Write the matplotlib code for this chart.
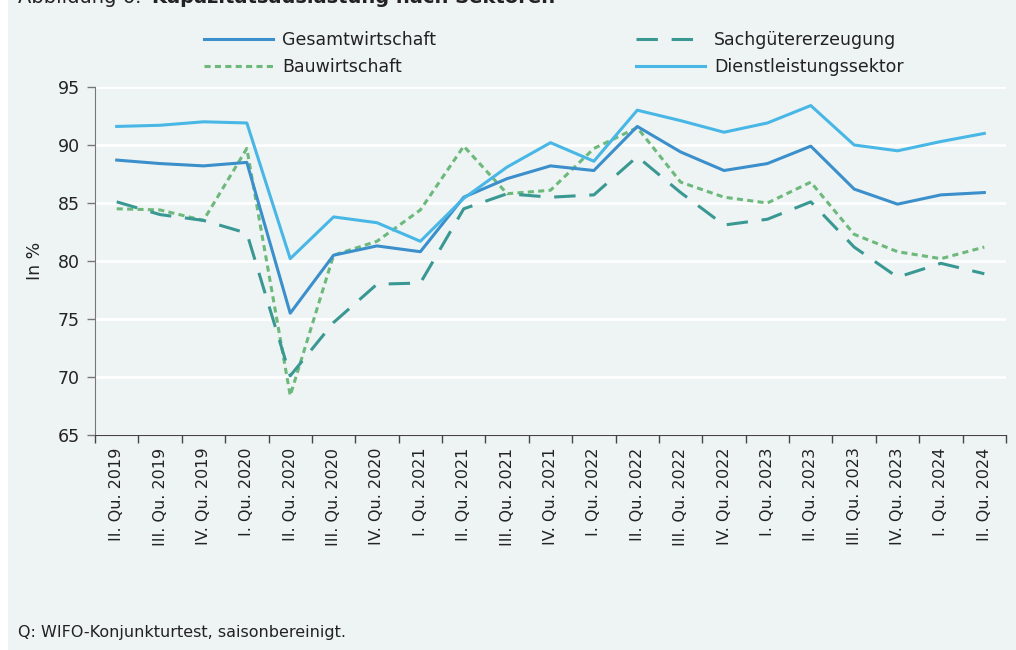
# plot.py
# Kapazitätsauslastung nach Sektoren (WIFO-Konjunkturtest)

import matplotlib

matplotlib.use("Agg")
import matplotlib.pyplot as plt
from matplotlib.patches import Rectangle
from matplotlib.ticker import MultipleLocator

plt.rcParams["font.family"] = ["DejaVu Sans"]

quartale = [
    "II. Qu. 2019", "III. Qu. 2019", "IV. Qu. 2019",
    "I. Qu. 2020", "II. Qu. 2020", "III. Qu. 2020", "IV. Qu. 2020",
    "I. Qu. 2021", "II. Qu. 2021", "III. Qu. 2021", "IV. Qu. 2021",
    "I. Qu. 2022", "II. Qu. 2022", "III. Qu. 2022", "IV. Qu. 2022",
    "I. Qu. 2023", "II. Qu. 2023", "III. Qu. 2023", "IV. Qu. 2023",
    "I. Qu. 2024", "II. Qu. 2024",
]

gesamtwirtschaft = [88.7, 88.4, 88.2, 88.5, 75.5, 80.5, 81.3, 80.8, 85.5, 87.1,
                    88.2, 87.8, 91.6, 89.4, 87.8, 88.4, 89.9, 86.2, 84.9, 85.7, 85.9]
sachgueter = [85.1, 84.0, 83.5, 82.4, 70.1, 74.7, 78.0, 78.1, 84.5, 85.8,
              85.5, 85.7, 89.0, 85.9, 83.1, 83.6, 85.1, 81.2, 78.6, 79.8, 78.9]
bauwirtschaft = [84.5, 84.4, 83.5, 89.7, 68.4, 80.5, 81.7, 84.4, 89.9, 85.8,
                 86.1, 89.7, 91.5, 86.8, 85.5, 85.0, 86.8, 82.3, 80.8, 80.2, 81.2]
dienstleistung = [91.6, 91.7, 92.0, 91.9, 80.2, 83.8, 83.3, 81.7, 85.4, 88.1,
                  90.2, 88.6, 93.0, 92.1, 91.1, 91.9, 93.4, 90.0, 89.5, 90.3, 91.0]

hintergrund = "#eef4f4"
text_farbe = "#222222"

fig = plt.figure(figsize=(10.16, 6.5), dpi=100)
fig.patches.append(Rectangle((8 / 1016, 0), 1, 1, transform=fig.transFigure,
                             facecolor=hintergrund, edgecolor="none", zorder=-10))

ax = fig.add_axes([95 / 1016, 1 - 435 / 650, (1006 - 95) / 1016, (435 - 87) / 650])
ax.set_facecolor(hintergrund)

x = list(range(len(quartale)))
ax.plot(x, gesamtwirtschaft, color="#3b8fcb", lw=2.2, label="Gesamtwirtschaft", zorder=4)
ax.plot(x, bauwirtschaft, color="#6db97c", lw=2.2, dashes=(2.0, 1.4),
        label="Bauwirtschaft", zorder=3)
ax.plot(x, sachgueter, color="#3a9893", lw=2.2, dashes=(7.0, 4.5),
        label="Sachgütererzeugung", zorder=3)
ax.plot(x, dienstleistung, color="#48b7e6", lw=2.2, label="Dienstleistungssektor", zorder=4)

ax.set_ylim(65, 95)
ax.set_xlim(-0.5, len(quartale) - 0.5)
ax.yaxis.set_major_locator(MultipleLocator(5))
ax.grid(axis="y", color="white", lw=2)
ax.set_axisbelow(True)

ax.set_xticks(x)
ax.set_xticklabels(quartale, rotation=90, fontsize=11.5, color=text_farbe)
ax.set_xticks([i - 0.5 for i in range(len(quartale) + 1)], minor=True)
ax.tick_params(axis="x", which="major", length=0, pad=9)
ax.tick_params(axis="x", which="minor", length=6, color="#444444", width=1)
ax.tick_params(axis="y", length=6, color="#777777", width=1, labelsize=12.5,
               labelcolor=text_farbe, pad=5)

for seite in ["top", "right"]:
    ax.spines[seite].set_visible(False)
ax.spines["left"].set_color("#777777")
ax.spines["bottom"].set_color("#444444")

ax.set_ylabel("In %", fontsize=12.5, color=text_farbe, labelpad=10)

fig.legend(loc="center", bbox_to_anchor=(0.545, 1 - 53.5 / 650), ncol=2,
           frameon=False, fontsize=12.5, handlelength=4.0, handletextpad=0.5,
           columnspacing=11.5, labelspacing=0.55, labelcolor=text_farbe)

# Titel (oben angeschnitten wie im Original)
titel_a = fig.text(18 / 1016, 1 - 3 / 650, "Abbildung 6: ", fontsize=14,
                   color=text_farbe, va="baseline", ha="left")
renderer = fig.canvas.get_renderer()
bbox = titel_a.get_window_extent(renderer=renderer)
fig.text(bbox.x1 / fig.bbox.width + 4 / 1016, 1 - 3 / 650,
         "Kapazitätsauslastung nach Sektoren", fontsize=14, fontweight="bold",
         color=text_farbe, va="baseline", ha="left")

fig.text(18 / 1016, 1 - 632 / 650, "Q: WIFO-Konjunkturtest, saisonbereinigt.",
         fontsize=11.5, color=text_farbe, va="center", ha="left")

fig.savefig("out.png", dpi=100, facecolor="white")
plt.close(fig)
